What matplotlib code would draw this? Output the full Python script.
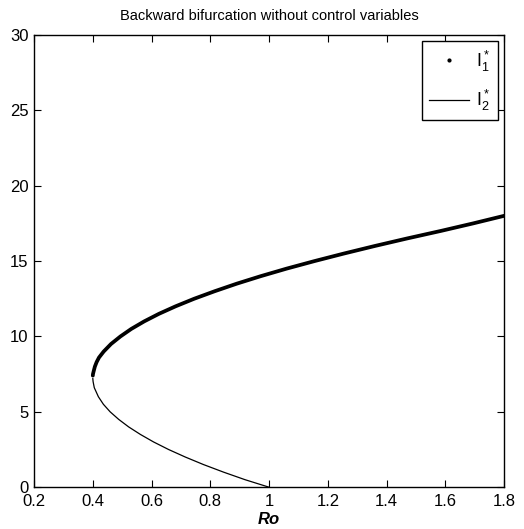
import matplotlib.pyplot as plt
from matplotlib.ticker import FormatStrFormatter

plt.rcParams['font.family'] = ['Liberation Sans Narrow', 'Liberation Sans', 'DejaVu Sans']

# rama superior I1* (puntos)
I_sup = [7.4, 7.5, 7.7, 8.0, 8.3, 8.6, 9.0, 9.5, 10.0, 10.5, 11.0, 11.5, 12.0, 12.5,
         13.0, 13.5, 14.0, 14.5, 15.0, 15.5, 16.0, 16.5, 17.0, 17.5, 18.0]
R0_sup = [0.400, 0.4005, 0.403, 0.407, 0.413, 0.421, 0.437, 0.462, 0.494, 0.531, 0.575, 0.625,
          0.682, 0.745, 0.815, 0.890, 0.972, 1.060, 1.155, 1.255, 1.360, 1.470, 1.585,
          1.695, 1.800]

# rama inferior I2* (linea)
I_inf = [7.2, 7.0, 6.6, 6.0, 5.5, 5.0, 4.5, 4.0, 3.5, 3.0, 2.5, 2.0, 1.5, 1.0, 0.5, 0.0]
R0_inf = [0.400, 0.401, 0.405, 0.419, 0.436, 0.459, 0.488, 0.522, 0.562, 0.607, 0.658,
          0.715, 0.777, 0.845, 0.918, 1.000]

xticks = [0.2, 0.4, 0.6, 0.8, 1.0, 1.2, 1.4, 1.6, 1.8]
yticks = [0, 5, 10, 15, 20, 25, 30]

fig = plt.figure(figsize=(5.24, 5.29), dpi=100)
ax = fig.add_axes([0.065, 0.079, 0.897, 0.855])

ax.plot(R0_sup, I_sup, color='black', lw=2.7, solid_capstyle='round', solid_joinstyle='round')
ax.plot(R0_inf, I_inf, color='black', lw=0.9)

# entradas de la leyenda
ax.plot([], [], '.', color='black', markersize=4, label=r'$\mathregular{I_1^*}$')
ax.plot([], [], '-', color='black', lw=0.9, label=r'$\mathregular{I_2^*}$')

ax.set_xlim(0.2, 1.8)
ax.set_ylim(0, 30)
ax.set_xticks(xticks)
ax.set_yticks(yticks)
ax.xaxis.set_major_formatter(FormatStrFormatter('%g'))
ax.tick_params(direction='in', top=True, right=True, labelsize=12, length=5, width=0.8)
ax.tick_params(axis='x', pad=5)
ax.tick_params(axis='y', pad=4)
for s in ax.spines.values():
    s.set_linewidth(1.0)

ax.set_title('Backward bifurcation without control variables', fontsize=10.5, pad=11)
ax.set_xlabel('Ro', fontsize=12, fontweight='bold', fontstyle='italic', labelpad=2)

leg = ax.legend(loc='upper right', fontsize=13, handlelength=2.2, labelspacing=0.8,
                fancybox=False, framealpha=1, edgecolor='black', borderaxespad=0.35,
                handletextpad=0.4, borderpad=0.4)
leg.get_frame().set_linewidth(1.0)

fig.savefig('out.png', dpi=100)
